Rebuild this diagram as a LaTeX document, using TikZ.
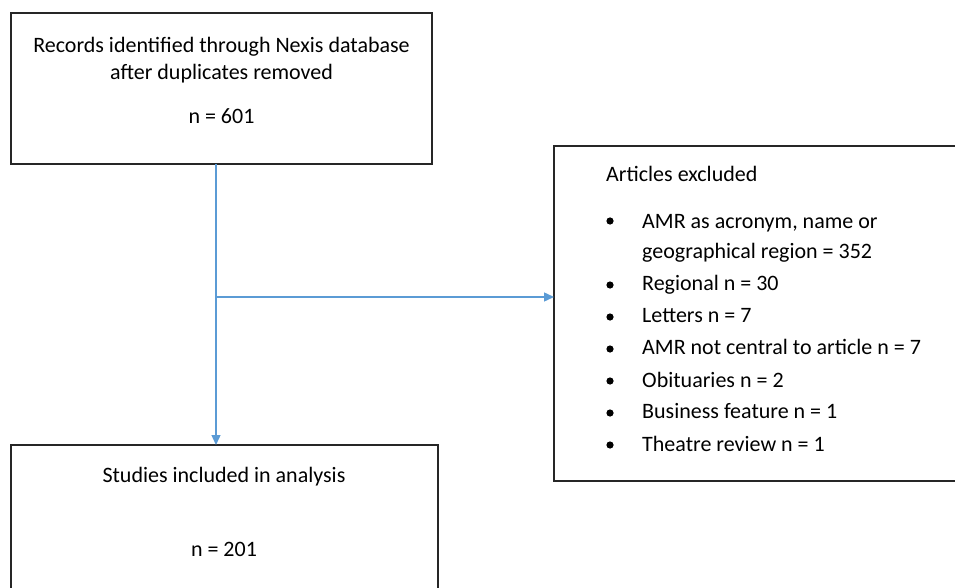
\documentclass[tikz,border=0pt]{standalone}
\usepackage{fontspec}
\setmainfont{Carlito}
\usetikzlibrary{arrows.meta}
\definecolor{arrowblue}{HTML}{5B9BD5}
\begin{document}
\begin{tikzpicture}[x=1pt,y=-1pt,
  box/.style={draw=black!85,line width=1.3pt},
  txt/.style={inner sep=0pt,font=\fontsize{22}{26}\selectfont},
  conn/.style={draw=arrowblue,line width=1.4pt,-{Triangle[length=10pt,width=9pt]}},
  bul/.style={fill=black}]
\useasboundingbox (0,0) rectangle (955,588);
\begin{scope}
\clip (0,0) rectangle (955,588);
% boxes
\draw[box] (11,13) rectangle (432,164);
\draw[box] (554,146) rectangle (965,481);
\draw[box] (11,445) rectangle (438,600);
\end{scope}
% top box text
\node[txt,anchor=base] (t1) at (221.5,53) {Records identified through Nexis database};
\node[txt,anchor=base] (t2) at (221.5,80) {after duplicates removed};
\node[txt,anchor=base] (t3) at (221.5,124) {n = 601};
% bottom box text
\node[txt,anchor=base] (b1) at (224,482) {Studies included in analysis};
\node[txt,anchor=base] (b2) at (224,556) {n = 201};
% right box text
\node[txt,anchor=base west] (r0) at (606,182) {Articles excluded};
\node[txt,anchor=base west] (r1) at (642,228) {AMR as acronym, name or};
\node[txt,anchor=base west] (r1b) at (642,258) {geographical region = 352};
\node[txt,anchor=base west] (r2) at (642,290) {Regional n = 30};
\node[txt,anchor=base west] (r3) at (642,322) {Letters n = 7};
\node[txt,anchor=base west] (r4) at (642,354) {AMR not central to article n = 7};
\node[txt,anchor=base west] (r5) at (642,387) {Obituaries n = 2};
\node[txt,anchor=base west] (r6) at (642,418) {Business feature n = 1};
\node[txt,anchor=base west] (r7) at (642,451) {Theatre review n = 1};
\foreach \y in {221,285,317,349,381,413,445} \fill[bul] (610,\y) circle (3.6);
% connectors
\coordinate (top) at (216,164);
\coordinate (bot) at (216,445);
\coordinate (mid) at (216,297);
\coordinate (rgt) at (554,297);
\draw[conn] (top) -- (bot);
\draw[conn] (mid) -- (rgt);
\end{tikzpicture}
\end{document}
